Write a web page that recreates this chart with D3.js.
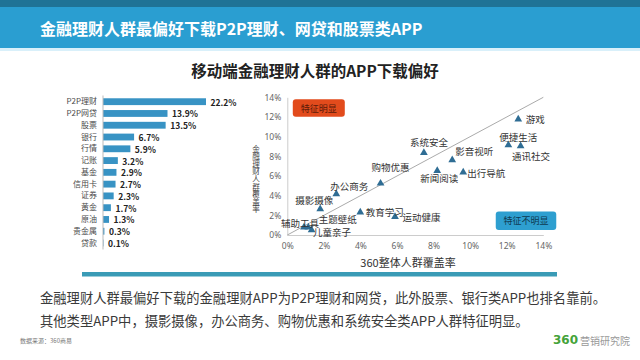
<!DOCTYPE html>
<html><head><meta charset="utf-8">
<script src="https://cdn.jsdelivr.net/npm/d3@7/dist/d3.min.js"></script>
<style>
body{margin:0;background:#fff}
svg{display:block;font-family:"Noto Sans CJK SC","Noto Sans",sans-serif}
</style>
</head><body>
<svg id="c" width="640" height="360"></svg>
<script>
// ---------- data ----------
const pageTitle = "金融理财人群最偏好下载P2P理财、网贷和股票类APP";
const chartTitle = "移动端金融理财人群的APP下载偏好";
const barCategories = ["P2P理财","P2P网贷","股票","银行","行情","记账","基金","信用卡","证券","黄金","原油","贵金属","贷款"];
const barValues = [22.2,13.9,13.5,6.7,5.9,3.2,2.9,2.7,2.3,1.7,1.3,0.3,0.1];

const appNames = ["游戏","便捷生活","通讯社交","系统安全","影音视听","新闻阅读","出行导航","购物优惠","办公商务","摄影摄像","教育学习","运动健康","辅助工具","主题壁纸","儿童亲子"];
const overallCoverage = [12.63,12.09,12.76,7.47,9.02,8.20,9.62,5.10,2.68,1.80,3.99,5.89,0.91,1.15,1.33];
const financeCoverage = [11.76,9.15,9.05,8.37,7.63,6.54,6.37,5.25,4.17,2.64,2.31,1.86,0.78,0.78,0.50];
const scatterTicks = [0,2,4,6,8,10,12,14];
const xAxisTitle = "360整体人群覆盖率";
const yAxisTitle = "金融理财人群覆盖率";
const boxHigh = "特征明显";
const boxLow = "特征不明显";
const noteLines = ["金融理财人群最偏好下载的金融理财APP为P2P理财和网贷，此外股票、银行类APP也排名靠前。",
                   "其他类型APP中，摄影摄像，办公商务、购物优惠和系统安全类APP人群特征明显。"];
const sourceText = "数据来源：360商易";
const logoNum = "360", logoText = "营销研究院";

// label placement (presentation only): [dx, dy, anchor]
const labelPlace = {
  "游戏":[7.5,0,"start"], "便捷生活":[10,-8.5,"middle"], "通讯社交":[10.5,10,"middle"],
  "系统安全":[5,-11,"middle"], "影音视听":[3,-8.5,"start"], "新闻阅读":[2,7,"middle"],
  "出行导航":[4,1,"start"], "购物优惠":[10,-16.5,"middle"], "办公商务":[13,-7.5,"middle"],
  "摄影摄像":[-6,-9,"middle"], "教育学习":[5.5,0,"start"], "运动健康":[7.5,0,"start"],
  "辅助工具":[-4,-4,"middle"], "主题壁纸":[10.5,-8,"start"], "儿童亲子":[1.5,2,"start"]
};

// ---------- drawing ----------
const svg = d3.select("#c");

// header
svg.append("rect").attr("x",0).attr("y",0).attr("width",640).attr("height",48).attr("fill","#2a9ed1");
svg.append("rect").attr("x",0).attr("y",0).attr("width",640).attr("height",7).attr("fill","#1f7396");
svg.append("rect").attr("x",0).attr("y",48).attr("width",640).attr("height",3).attr("fill","#d9f0fa");
svg.append("text").attr("x",40).attr("y",28).attr("dominant-baseline","central")
  .attr("fill","#fff").attr("font-size",16).attr("font-weight","bold").text(pageTitle);

svg.append("text").attr("x",315).attr("y",70).attr("text-anchor","middle").attr("dominant-baseline","central")
  .attr("fill","#222").attr("font-size",15.5).attr("font-weight","bold").text(chartTitle);

// ---- bar chart ----
const bx0 = 103;
const xb = d3.scaleLinear().domain([0,22.2]).range([bx0,206]);
const yb = d3.scaleBand().domain(barCategories).range([95.8,248.9]).paddingInner(0.42).paddingOuter(0.21);
const gBar = svg.append("g");
gBar.selectAll("rect.bar").data(barValues).join("rect").attr("class","bar")
  .attr("x",bx0).attr("y",(d,i)=>yb(barCategories[i]))
  .attr("width",d=>xb(d)-bx0).attr("height",yb.bandwidth()).attr("fill","#3893c4");
gBar.selectAll("text.val").data(barValues).join("text").attr("class","val")
  .attr("x",d=>xb(d)+4.5).attr("y",(d,i)=>yb(barCategories[i])+yb.bandwidth()/2)
  .attr("dominant-baseline","central").attr("font-size",8.5).attr("font-weight","bold").attr("fill","#222")
  .text(d=>d.toFixed(1)+"%");
const yAxisBar = d3.axisLeft(yb).tickSize(0).tickPadding(6);
const gya = gBar.append("g").attr("transform",`translate(${bx0},0)`).call(yAxisBar);
gya.select(".domain").attr("stroke","#bbb").attr("d",`M0,95.5V249.5`);
gya.selectAll("text").attr("font-size",8).attr("fill","#4a4a4a").attr("font-family",'"Noto Sans CJK SC",sans-serif');

// ---- scatter ----
const sx = d3.scaleLinear().domain([0,14]).range([287.3,543.3]);
const sy = d3.scaleLinear().domain([0,14]).range([235,97.3]);
const gS = svg.append("g");
const xAx = d3.axisBottom(sx).tickValues(scatterTicks).tickFormat(d=>d+"%").tickSize(0).tickPadding(8);
const yAx = d3.axisLeft(sy).tickValues(scatterTicks).tickFormat(d=>d+"%").tickSize(0).tickPadding(6);
const gx = gS.append("g").attr("transform",`translate(0,${sy(0)})`).call(xAx);
const gy = gS.append("g").attr("transform",`translate(${sx(0)},0)`).call(yAx);
[gx,gy].forEach(g=>{
  g.select(".domain").attr("stroke","#ccc");
  g.selectAll("text").attr("font-size",8.5).attr("fill","#666").attr("font-family",'"Noto Sans",sans-serif');
});
// diagonal reference
gS.append("line").attr("x1",sx(0)).attr("y1",sy(0)).attr("x2",sx(14)).attr("y2",sy(14))
  .attr("stroke","#a0a0a0").attr("stroke-width",0.9);

// boxes
gS.append("rect").attr("x",sx(0.3)).attr("y",sy(13.8)).attr("width",52).attr("height",17.5).attr("rx",3)
  .attr("fill","#e24b1c");
gS.append("text").attr("x",sx(0.3)+26).attr("y",sy(13.8)+9).attr("text-anchor","middle").attr("dominant-baseline","central")
  .attr("font-size",9).attr("fill","#5a1a08").text(boxHigh);
gS.append("rect").attr("x",sx(11.4)).attr("y",sy(2.4)).attr("width",60.5).attr("height",18.5).attr("rx",3)
  .attr("fill","#2e9fd0");
gS.append("text").attr("x",sx(11.4)+30.25).attr("y",sy(2.4)+9.25).attr("text-anchor","middle").attr("dominant-baseline","central")
  .attr("font-size",9).attr("fill","#0e3a52").text(boxLow);

// points
const tri = d3.symbol().type(d3.symbolTriangle).size(26);
gS.selectAll("path.pt").data(appNames).join("path").attr("class","pt")
  .attr("transform",(d,i)=>`translate(${sx(overallCoverage[i])},${sy(financeCoverage[i])})`)
  .attr("d",tri).attr("fill","#2f6d94");
gS.selectAll("text.lab").data(appNames).join("text").attr("class","lab")
  .attr("x",(d,i)=>sx(overallCoverage[i])+labelPlace[d][0])
  .attr("y",(d,i)=>sy(financeCoverage[i])+labelPlace[d][1])
  .attr("text-anchor",d=>labelPlace[d][2]).attr("dominant-baseline","central")
  .attr("font-size",9.5).attr("fill","#333").text(d=>d);

// axis titles
gS.append("text").attr("x",408).attr("y",262).attr("text-anchor","middle").attr("dominant-baseline","central")
  .attr("font-size",11).attr("fill","#333").text(xAxisTitle);
gS.append("text").attr("x",256).attr("y",145)
  .style("writing-mode","vertical-rl").style("text-orientation","upright")
  .attr("font-size",7.6).attr("fill","#444").text(yAxisTitle);

// separator
svg.append("rect").attr("x",82).attr("y",272).attr("width",475).attr("height",4.5).attr("fill","#3a9bb6");

// notes
svg.selectAll("text.note").data(noteLines).join("text").attr("class","note")
  .attr("x",40).attr("y",(d,i)=>297+i*23).attr("dominant-baseline","central")
  .attr("font-size",13.3).attr("fill","#3a3a3a").text(d=>d);

// source & logo
svg.append("text").attr("x",20).attr("y",340).attr("dominant-baseline","central")
  .attr("font-size",6).attr("fill","#777").text(sourceText);
const logo = svg.append("text").attr("x",553).attr("y",340).attr("dominant-baseline","central");
logo.append("tspan").attr("font-size",12).attr("font-weight","bold").attr("fill","#45a33a")
  .attr("font-family",'"DejaVu Sans",sans-serif').text(logoNum);
logo.append("tspan").attr("dx",2).attr("font-size",10).attr("fill","#999").text(logoText);
</script>
</body></html>
